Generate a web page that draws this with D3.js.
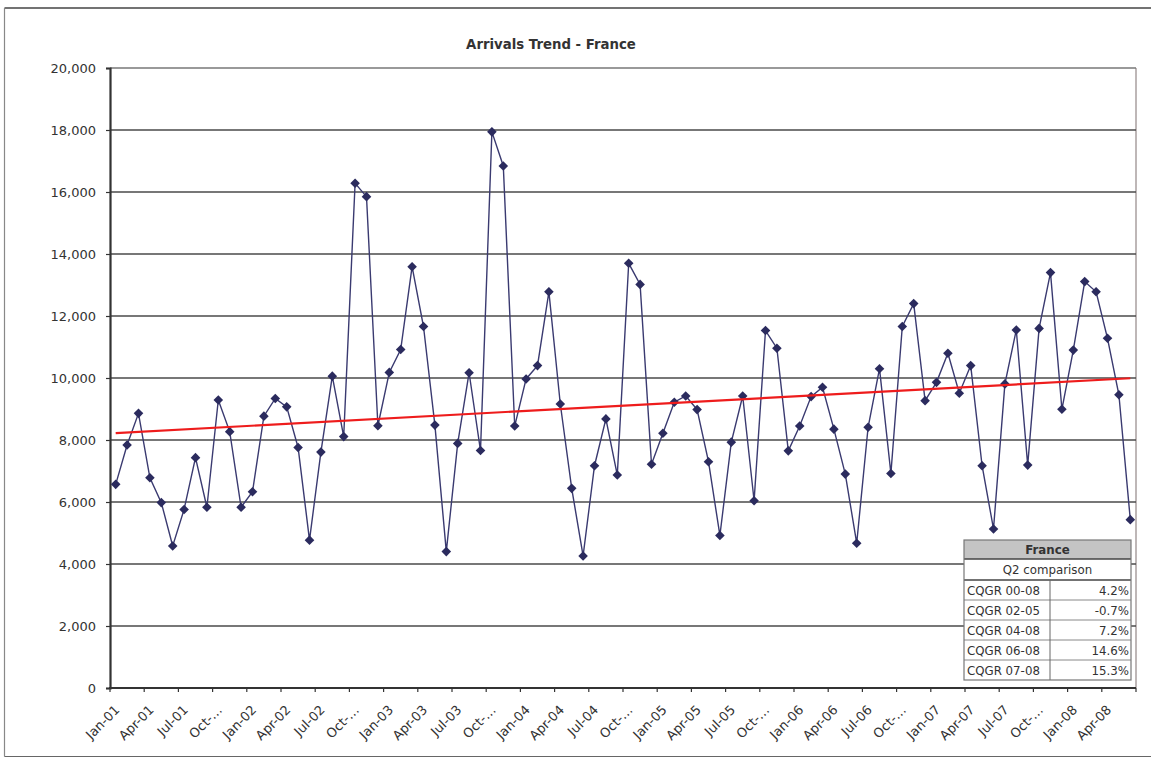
<!DOCTYPE html>
<html>
<head>
<meta charset="utf-8">
<script src="https://cdn.jsdelivr.net/npm/d3@7"></script>
<style>
  html, body { margin: 0; padding: 0; background: #fff; }
  svg { display: block; font-family: "DejaVu Sans", Verdana, sans-serif; }
</style>
</head>
<body>
<svg id="chart" width="1151" height="758"></svg>
<script>
// Monthly arrivals from France, Jan 2001 – Jun 2008
const arrivals = [
  6570, 7840, 8860, 6780, 5980, 4580, 5760, 7430, 5830, 9290, 8270, 5830,
  6330, 8770, 9340, 9070, 7760, 4770, 7610, 10060, 8110, 16280, 15850, 8460,
  10180, 10920, 13590, 11660, 8480, 4400, 7890, 10170, 7660, 17940, 16840, 8450,
  9970, 10400, 12780, 9160, 6440, 4260, 7170, 8680, 6870, 13700, 13020, 7220,
  8220, 9220, 9420, 8980, 7300, 4920, 7930, 9420, 6040, 11530, 10960, 7650,
  8450, 9400, 9700, 8350, 6900, 4670, 8410, 10300, 6920, 11660, 12400, 9270,
  9860, 10800, 9510, 10400, 7170, 5130, 9810, 11550, 7190, 11600, 13400, 8990,
  10900, 13110, 12780, 11280, 9460, 5430
];

// One category per month
const months = d3.timeMonth.range(new Date(2001, 0, 1), new Date(2008, 6, 1));
const categories = months.map(d3.timeFormat("%b-%y"));

// Category axis labels, one every quarter (October labels are clipped)
const tickLabels = [
  "Jan-01", "Apr-01", "Jul-01", "Oct-…", "Jan-02", "Apr-02", "Jul-02", "Oct-…",
  "Jan-03", "Apr-03", "Jul-03", "Oct-…", "Jan-04", "Apr-04", "Jul-04", "Oct-…",
  "Jan-05", "Apr-05", "Jul-05", "Oct-…", "Jan-06", "Apr-06", "Jul-06", "Oct-…",
  "Jan-07", "Apr-07", "Jul-07", "Oct-…", "Jan-08", "Apr-08"
];
const yTicks = [0, 2000, 4000, 6000, 8000, 10000, 12000, 14000, 16000, 18000, 20000];

// Growth summary table
const tableTitle = "France";
const tableSubtitle = "Q2 comparison";
const growthLabels = ["CQGR 00-08", "CQGR 02-05", "CQGR 04-08", "CQGR 06-08", "CQGR 07-08"];
const growthValues = [4.2, -0.7, 7.2, 14.6, 15.3];

const svg = d3.select("#chart");
const margin = { left: 110, right: 1136, top: 68, bottom: 688 };

const x = d3.scaleBand().domain(categories).range([margin.left, margin.right]);
const y = d3.scaleLinear().domain([0, 20000]).range([margin.bottom, margin.top]);
const cx = c => x(c) + x.bandwidth() / 2;

// Outer frame
svg.append("line").attr("x1", 4.5).attr("x2", 1151).attr("y1", 8).attr("y2", 8)
  .attr("stroke", "#444").attr("stroke-width", 1.5);
svg.append("line").attr("x1", 4.5).attr("x2", 4.5).attr("y1", 8).attr("y2", 756.5)
  .attr("stroke", "#888").attr("stroke-width", 1.2);
svg.append("line").attr("x1", 4.5).attr("x2", 1151).attr("y1", 756.5).attr("y2", 756.5)
  .attr("stroke", "#666").attr("stroke-width", 1.2);

// Title
svg.append("text").attr("x", 551).attr("y", 49).attr("text-anchor", "middle")
  .attr("font-size", 13.3).attr("font-weight", "bold").attr("fill", "#333")
  .text("Arrivals Trend - France");

// Plot area right border
svg.append("line").attr("x1", margin.right).attr("x2", margin.right)
  .attr("y1", margin.top).attr("y2", margin.bottom)
  .attr("stroke", "#a89f9f").attr("stroke-width", 1.5);

// Horizontal gridlines
svg.append("g").selectAll("line").data(yTicks.filter(v => v > 0)).join("line")
  .attr("x1", margin.left).attr("x2", margin.right)
  .attr("y1", d => y(d)).attr("y2", d => y(d))
  .attr("stroke", d => d === 20000 ? "#777" : "#4a4a4a").attr("stroke-width", 1.3);

// Y axis
const yAxis = svg.append("g").attr("transform", `translate(${margin.left},0)`)
  .call(d3.axisLeft(y).tickValues(yTicks).tickSize(4).tickPadding(10)
    .tickFormat(d3.format(",")));
yAxis.select(".domain").attr("stroke", "#333").attr("stroke-width", 2.2);
yAxis.selectAll(".tick line").attr("stroke", "#333").attr("stroke-width", 1.2);
yAxis.selectAll(".tick text").attr("font-size", 13).attr("fill", "#333")
  .attr("font-family", "DejaVu Sans, sans-serif");

// X axis: ticks at quarter boundaries, labels on the first month of each quarter
const quarterStarts = categories.filter((c, i) => i % 3 === 0);
const boundaries = d3.range(0, categories.length + 1, 3)
  .map(i => i < categories.length ? x(categories[i]) : margin.right);
const xg = svg.append("g");
xg.append("line").attr("x1", margin.left - 1).attr("x2", margin.right)
  .attr("y1", margin.bottom).attr("y2", margin.bottom)
  .attr("stroke", "#333").attr("stroke-width", 2.2);
xg.selectAll("line.tick").data(boundaries).join("line").attr("class", "tick")
  .attr("x1", d => d).attr("x2", d => d)
  .attr("y1", margin.bottom).attr("y2", margin.bottom + 4)
  .attr("stroke", "#333").attr("stroke-width", 1.2);
xg.selectAll("text").data(quarterStarts).join("text")
  .attr("transform", d => `translate(${cx(d) + 1.5},${margin.bottom + 19.5}) rotate(-45)`)
  .attr("text-anchor", "end").attr("dy", "0.35em")
  .attr("font-size", 13).attr("fill", "#333")
  .text((d, i) => tickLabels[i]);

// Linear trend (least squares over the monthly series)
const idx = d3.range(arrivals.length);
const mx = d3.mean(idx), my = d3.mean(arrivals);
const slope = d3.sum(idx, i => (i - mx) * (arrivals[i] - my)) / d3.sum(idx, i => (i - mx) ** 2);
const intercept = my - slope * mx;

// Arrivals line and markers
const series = categories.map((c, i) => ({ c, v: arrivals[i] }));
svg.append("path").datum(series)
  .attr("fill", "none").attr("stroke", "#3a3a70").attr("stroke-width", 1.4)
  .attr("d", d3.line().x(d => cx(d.c)).y(d => y(d.v)));

svg.append("g").selectAll("path").data(series).join("path")
  .attr("transform", d => `translate(${cx(d.c)},${y(d.v)})`)
  .attr("d", "M0,-4.8L4.8,0L0,4.8L-4.8,0Z")
  .attr("fill", "#2b2b5e");

const trend = [0, arrivals.length - 1].map(i => ({ c: categories[i], v: intercept + slope * i }));
svg.append("path").datum(trend)
  .attr("fill", "none").attr("stroke", "#ee1c1c").attr("stroke-width", 2.2)
  .attr("d", d3.line().x(d => cx(d.c)).y(d => y(d.v)));

// Summary table
const tb = { x0: 964, x1: 1131, split: 1050, top: 540 };
const rowH = [19, 21, 20, 20, 20, 20, 20];
const rowY = [tb.top];
rowH.forEach(h => rowY.push(rowY[rowY.length - 1] + h));
const pct = v => d3.format(".1f")(v).replace("−", "-") + "%";
const table = svg.append("g").attr("font-size", 11.8).attr("fill", "#333");
table.append("rect").attr("x", tb.x0).attr("y", rowY[0])
  .attr("width", tb.x1 - tb.x0).attr("height", rowY[rowY.length - 1] - rowY[0])
  .attr("fill", "#fff");
table.append("rect").attr("x", tb.x0).attr("y", rowY[0])
  .attr("width", tb.x1 - tb.x0).attr("height", rowH[0]).attr("fill", "#c4c4c4");
table.append("text").attr("x", (tb.x0 + tb.x1) / 2).attr("y", rowY[0] + 14)
  .attr("text-anchor", "middle").attr("font-weight", "bold").text(tableTitle);
table.append("text").attr("x", (tb.x0 + tb.x1) / 2).attr("y", rowY[1] + 15)
  .attr("text-anchor", "middle").text(tableSubtitle);
growthLabels.forEach((lab, i) => {
  table.append("text").attr("x", tb.x0 + 3).attr("y", rowY[i + 2] + 14.5).text(lab);
  table.append("text").attr("x", tb.x1 - 2).attr("y", rowY[i + 2] + 14.5)
    .attr("text-anchor", "end").text(pct(growthValues[i]));
});
// Row and column rules
table.selectAll("line.row").data(rowY.slice(1, -1)).join("line").attr("class", "row")
  .attr("x1", tb.x0).attr("x2", tb.x1).attr("y1", d => d).attr("y2", d => d)
  .attr("stroke", (d, i) => i < 2 ? "#444" : "#888").attr("stroke-width", (d, i) => i < 2 ? 1.4 : 1);
table.append("line").attr("x1", tb.split).attr("x2", tb.split)
  .attr("y1", rowY[2]).attr("y2", rowY[rowY.length - 1]).attr("stroke", "#666");
table.append("rect").attr("x", tb.x0).attr("y", rowY[0])
  .attr("width", tb.x1 - tb.x0).attr("height", rowY[rowY.length - 1] - rowY[0])
  .attr("fill", "none").attr("stroke", "#777").attr("stroke-width", 1.2);
</script>
</body>
</html>
